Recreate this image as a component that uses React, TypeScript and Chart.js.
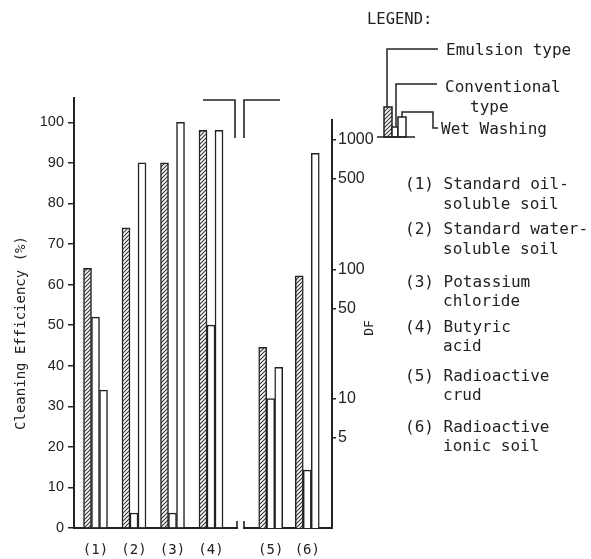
import React, { useEffect, useRef } from 'react';
import { Chart, registerables } from 'chart.js';

Chart.register(...registerables);

const W = 591;
const H = 559;
const INK = '#222';

// ---- data ----
const leftGroups = ['(1)', '(2)', '(3)', '(4)'];
const rightGroups = ['(5)', '(6)'];
const seriesNames = ['Emulsion type', 'Conventional type', 'Wet Washing'];
const emulsionEfficiency = [64, 74, 90, 98];
const conventionalEfficiency = [52, 3.7, 3.7, 50];
const wetEfficiency = [34, 90, 100, 98];
const emulsionDF = [25, 89];
const conventionalDF = [10, 2.8];
const wetDF = [17.5, 790];
const efficiencyTicks = [0, 10, 20, 30, 40, 50, 60, 70, 80, 90, 100];
const dfTicks = [5, 10, 50, 100, 500, 1000];
const legendTitle = 'LEGEND:';
const legendItems = [
  ['(1) Standard oil-', 'soluble soil'],
  ['(2) Standard water-', 'soluble soil'],
  ['(3) Potassium', 'chloride'],
  ['(4) Butyric', 'acid'],
  ['(5) Radioactive', 'crud'],
  ['(6) Radioactive', 'ionic soil'],
];
const yTitleLeft = 'Cleaning Efficiency (%)';
const yTitleRight = 'DF';

const SANS = '"Liberation Sans", Arial, sans-serif';
const MONO = '"DejaVu Sans Mono", monospace';

function makeHatch(): CanvasPattern | string {
  const c = document.createElement('canvas');
  c.width = 4;
  c.height = 4;
  const g = c.getContext('2d');
  if (!g) return '#888';
  g.fillStyle = '#fff';
  g.fillRect(0, 0, 4, 4);
  g.strokeStyle = '#333';
  g.lineWidth = 1.1;
  g.beginPath();
  g.moveTo(0, 4); g.lineTo(4, 0);
  g.moveTo(-1, 1); g.lineTo(1, -1);
  g.moveTo(3, 5); g.lineTo(5, 3);
  g.stroke();
  return g.createPattern(c, 'repeat') || '#888';
}

const legendYs = [[185, 205], [230, 250], [283, 302], [328, 347], [377, 396], [428, 447]];

const decorPlugin = {
  id: 'decor',
  afterDraw(chart: any) {
    const ctx: CanvasRenderingContext2D = chart.ctx;
    const hatch = (chart as any).$hatch;
    ctx.save();
    ctx.strokeStyle = INK;
    ctx.fillStyle = INK;
    ctx.lineWidth = 1.6;
    ctx.lineCap = 'butt';
    // axis-end ticks
    ctx.beginPath();
    ctx.moveTo(237, 528); ctx.lineTo(237, 521);
    ctx.moveTo(244, 528); ctx.lineTo(244, 521);
    // break marks
    ctx.moveTo(203, 100); ctx.lineTo(235, 100); ctx.lineTo(235, 138);
    ctx.moveTo(244, 138); ctx.lineTo(244, 100); ctx.lineTo(280, 100);
    ctx.stroke();

    // axis titles
    ctx.textBaseline = 'middle';
    ctx.textAlign = 'center';
    ctx.font = '14px ' + MONO;
    ctx.save();
    ctx.translate(21, 333);
    ctx.rotate(-Math.PI / 2);
    ctx.fillText(yTitleLeft, 0, 0);
    ctx.restore();
    ctx.font = '13px ' + MONO;
    ctx.save();
    ctx.translate(370, 328);
    ctx.rotate(-Math.PI / 2);
    ctx.fillText(yTitleRight, 0, 0);
    ctx.restore();

    // legend
    ctx.textAlign = 'left';
    ctx.font = '15.5px ' + MONO;
    ctx.fillText(legendTitle, 367, 20);
    ctx.font = '16px ' + MONO;
    ctx.fillText(seriesNames[0], 446, 51);
    ctx.fillText('Conventional', 445, 88);
    ctx.fillText('type', 470, 108);
    ctx.fillText(seriesNames[2], 441, 130);
    // legend mini bars
    ctx.lineWidth = 1.5;
    ctx.fillStyle = hatch;
    ctx.fillRect(384, 107, 8, 30);
    ctx.strokeRect(384, 107, 8, 30);
    ctx.fillStyle = '#fff';
    ctx.fillRect(392, 127, 6, 10);
    ctx.strokeRect(392, 127, 6, 10);
    ctx.fillRect(398, 117, 8, 20);
    ctx.strokeRect(398, 117, 8, 20);
    ctx.beginPath();
    ctx.moveTo(377, 137); ctx.lineTo(415, 137);
    ctx.moveTo(387, 107); ctx.lineTo(387, 49); ctx.lineTo(438, 49);
    ctx.moveTo(396, 127); ctx.lineTo(396, 84); ctx.lineTo(437, 84);
    ctx.moveTo(402, 117); ctx.lineTo(402, 112); ctx.lineTo(433, 112); ctx.lineTo(433, 128); ctx.lineTo(438, 128);
    ctx.stroke();

    ctx.fillStyle = INK;
    legendItems.forEach((item, i) => {
      ctx.fillText(item[0], 405, legendYs[i][0]);
      ctx.fillText(item[1], 443, legendYs[i][1]);
    });
    ctx.restore();
  },
};

function barDataset(label: string, values: number[], first: number, fill: any) {
  return {
    label,
    data: values.map((y, i) => ({ x: first + i, y })),
    backgroundColor: fill,
    borderColor: INK,
    borderWidth: 1.5,
    barThickness: 8,
  };
}

const baseOptions = (padding: any) => ({
  responsive: false,
  animation: false as const,
  devicePixelRatio: 1,
  events: [] as any[],
  layout: { padding },
  plugins: {
    legend: { display: false },
    tooltip: { enabled: false },
    title: { display: false },
  },
});

export default function App() {
  const leftRef = useRef<HTMLCanvasElement | null>(null);
  const rightRef = useRef<HTMLCanvasElement | null>(null);

  useEffect(() => {
    if (!leftRef.current || !rightRef.current) return;
    const hatch = makeHatch();

    const left = new Chart(leftRef.current, {
      type: 'bar',
      data: {
        datasets: [
          barDataset(seriesNames[0], emulsionEfficiency, 1, hatch),
          barDataset(seriesNames[1], conventionalEfficiency, 1, '#fff'),
          barDataset(seriesNames[2], wetEfficiency, 1, '#fff'),
        ] as any,
      },
      options: {
        ...baseOptions({ left: 0, top: 98, right: W - 237, bottom: 0 }),
        scales: {
          x: {
            type: 'linear',
            min: 0.4416,
            max: 4.675,
            offset: false,
            bounds: 'data',
            grid: { display: false, offset: false },
            border: { display: true, color: INK, width: 2 },
            afterBuildTicks: (s: any) => { s.ticks = leftGroups.map((_, i) => ({ value: i + 1 })); },
            afterFit: (s: any) => { s.height = H - 528; },
            ticks: {
              callback: (v: any) => leftGroups[Math.round(Number(v)) - 1] ?? '',
              font: { family: MONO, size: 14 },
              color: INK,
              padding: 6,
              maxRotation: 0,
              autoSkip: false,
            },
          },
          y: {
            type: 'linear',
            position: 'left',
            min: 0,
            max: 106,
            bounds: 'data',
            afterBuildTicks: (s: any) => { s.ticks = efficiencyTicks.map((v) => ({ value: v })); },
            afterFit: (s: any) => { s.width = 74; },
            grid: { drawOnChartArea: false, drawTicks: true, tickLength: 6, color: INK, lineWidth: 1.5 },
            border: { display: true, color: INK, width: 2 },
            ticks: { font: { family: SANS, size: 14.5 }, color: INK, padding: 4 },
          },
        },
      } as any,
      plugins: [decorPlugin],
    });
    (left as any).$hatch = hatch;
    left.draw();

    const right = new Chart(rightRef.current, {
      type: 'bar',
      data: {
        datasets: [
          barDataset(seriesNames[0], emulsionDF, 5, hatch),
          barDataset(seriesNames[1], conventionalDF, 5, '#fff'),
          barDataset(seriesNames[2], wetDF, 5, '#fff'),
        ] as any,
      },
      options: {
        ...baseOptions({ left: 244, top: 120, right: W - 332 - 60, bottom: 0 }),
        scales: {
          x: {
            type: 'linear',
            min: 4.27,
            max: 6.676,
            offset: false,
            bounds: 'data',
            grid: { display: false, offset: false },
            border: { display: true, color: INK, width: 2 },
            afterBuildTicks: (s: any) => { s.ticks = rightGroups.map((_, i) => ({ value: i + 5 })); },
            afterFit: (s: any) => { s.height = H - 528; },
            ticks: {
              callback: (v: any) => rightGroups[Math.round(Number(v)) - 5] ?? '',
              font: { family: MONO, size: 14 },
              color: INK,
              padding: 6,
              maxRotation: 0,
              autoSkip: false,
            },
          },
          y: {
            type: 'logarithmic',
            position: 'right',
            min: 1,
            max: 1430,
            bounds: 'data',
            afterBuildTicks: (s: any) => { s.ticks = dfTicks.map((v) => ({ value: v })); },
            afterFit: (s: any) => { s.width = 60; },
            grid: { drawOnChartArea: false, drawTicks: true, tickLength: 4, color: INK, lineWidth: 1.5 },
            border: { display: true, color: INK, width: 2 },
            ticks: { callback: (v: any) => String(v), font: { family: SANS, size: 16 }, color: INK, padding: 2 },
          },
        },
      } as any,
    });

    return () => {
      left.destroy();
      right.destroy();
    };
  }, []);

  const cs: React.CSSProperties = { position: 'absolute', left: 0, top: 0, width: W, height: H };
  return (
    <div style={{ position: 'absolute', left: 0, top: 0, width: W, height: H, background: '#fff' }}>
      <canvas ref={leftRef} width={W} height={H} style={cs} />
      <canvas ref={rightRef} width={W} height={H} style={cs} />
    </div>
  );
}
